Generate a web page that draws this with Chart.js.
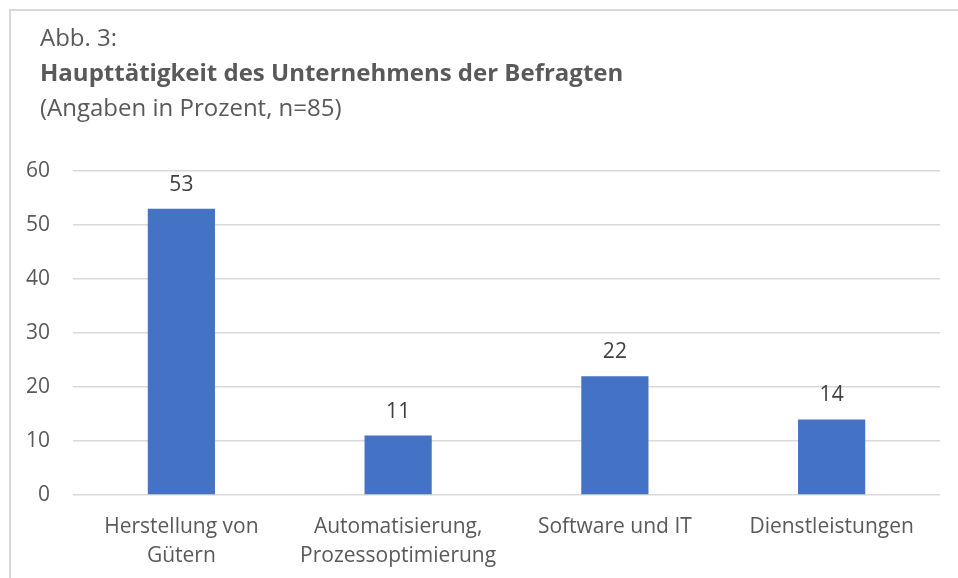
<!DOCTYPE html>
<html>
<head>
<meta charset="utf-8">
<script src="https://cdn.jsdelivr.net/npm/chart.js@4/dist/chart.umd.min.js"></script>
<style>
  body { margin: 0; background: #fff; }
  #wrap { position: relative; width: 958px; height: 578px; overflow: hidden; }
  #frame { position: absolute; left: 9px; top: 9px; width: 1000px; height: 1000px; border-left: 2px solid #d9d9d9; border-top: 2px solid #d9d9d9; }
  #head { position: absolute; left: 40px; top: 19px; font-family: "Open Sans", sans-serif; font-size: 24px; color: #595959; line-height: 35px; }
  #head b { font-weight: bold; }
  canvas { position: absolute; left: 0; top: 0; }
</style>
</head>
<body>
<div id="wrap">
  <div id="frame"></div>
  <canvas id="myChart" width="958" height="578"></canvas>
  <div id="head">Abb. 3:<br><b>Haupttätigkeit des Unternehmens der Befragten</b><br>(Angaben in Prozent, n=85)</div>
</div>
<script>
// categories and values
var categories = [['Herstellung von', 'Gütern'], ['Automatisierung,', 'Prozessoptimierung'], 'Software und IT', 'Dienstleistungen'];
var values = [53, 11, 22, 14];
var yTicks = [0, 10, 20, 30, 40, 50, 60];

// draw value above each bar
var valueLabels = {
  id: 'valueLabels',
  afterDatasetsDraw: function (chart) {
    var ctx = chart.ctx;
    var meta = chart.getDatasetMeta(0);
    ctx.save();
    ctx.font = '21px "Open Sans", sans-serif';
    ctx.fillStyle = '#404040';
    ctx.textAlign = 'center';
    ctx.textBaseline = 'alphabetic';
    meta.data.forEach(function (bar, i) {
      ctx.fillText(values[i], bar.x, bar.y - 18);
    });
    ctx.restore();
  }
};

var ctx = document.getElementById('myChart').getContext('2d');
var chart = new Chart(ctx, {
  type: 'bar',
  data: {
    labels: categories,
    datasets: [{
      data: values,
      backgroundColor: '#4472C4',
      categoryPercentage: 1,
      barPercentage: 0.31
    }]
  },
  options: {
    responsive: false,
    animation: false,
    layout: { padding: { left: 10, right: 18, top: 171, bottom: 0 } },
    plugins: { legend: { display: false }, tooltip: { enabled: false } },
    scales: {
      x: {
        grid: { display: false },
        border: { display: false },
        ticks: {
          color: '#595959',
          font: { family: '"Open Sans", sans-serif', size: 21, lineHeight: 1.4 },
          padding: 9,
          maxRotation: 0,
          autoSkip: false
        },
        afterFit: function (scale) { scale.height = 83; }
      },
      y: {
        min: 0,
        max: 60,
        afterBuildTicks: function (scale) {
          scale.ticks = yTicks.map(function (v) { return { value: v }; });
        },
        grid: { color: '#d9d9d9', lineWidth: 1.5, drawTicks: false },
        border: { display: false },
        ticks: {
          color: '#595959',
          font: { family: '"Open Sans", sans-serif', size: 21 },
          padding: 23
        },
        afterFit: function (scale) { scale.width = 63; }
      }
    }
  },
  plugins: [valueLabels]
});
</script>
</body>
</html>
